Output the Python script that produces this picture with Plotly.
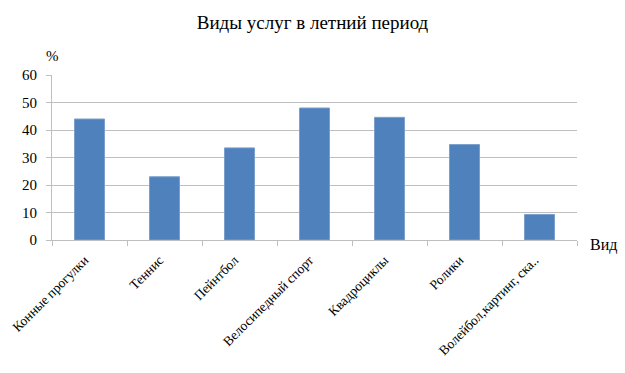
import plotly.graph_objects as go

categories = ["Конные прогулки", "Теннис", "Пейнтбол", "Велосипедный спорт",
              "Квадроциклы", "Ролики", "Волейбол,картинг, ска.."]
values = [44, 23, 33.5, 48, 44.6, 34.7, 9.3]
y_ticks = [0, 10, 20, 30, 40, 50, 60]

FONT = "Liberation Serif, Times New Roman, serif"

fig = go.Figure(go.Bar(
    x=categories, y=values,
    marker=dict(color="#4F81BD", line=dict(color="#7BA0CD", width=1)),
    hoverinfo="skip",
))

fig.update_layout(
    width=625, height=373,
    margin=dict(l=52, r=48, t=75, b=133, autoexpand=False),
    paper_bgcolor="white", plot_bgcolor="white",
    bargap=0.6,
    showlegend=False,
    font=dict(family=FONT, color="#000000"),
    title=dict(text="Виды услуг в летний период", x=0.5, xanchor="center",
               y=1 - 22 / 373, yanchor="middle",
               font=dict(family=FONT, size=19, color="#000000")),
    xaxis=dict(
        type="category", tickangle=-45, tickson="boundaries",
        ticks="outside", ticklen=5, tickcolor="#BFBFBF",
        showline=True, linecolor="#BFBFBF", linewidth=1,
        showgrid=False, automargin=False,
        ticklabelstandoff=6, ticklabelshift=-5,
        tickfont=dict(family=FONT, size=13.5, color="#000000"),
    ),
    yaxis=dict(
        range=[0, 60], tickvals=y_ticks, ticktext=[str(v) for v in y_ticks],
        ticks="outside", ticklen=5, tickcolor="#BFBFBF",
        showline=True, linecolor="#BFBFBF", linewidth=1,
        showgrid=True, gridcolor="#BFBFBF", gridwidth=1,
        zeroline=False, automargin=False,
        ticklabelstandoff=6,
        tickfont=dict(family=FONT, size=15, color="#000000"),
    ),
    annotations=[
        dict(text="%", xref="paper", yref="paper", x=0.0, y=1 + 19 / 165,
             xanchor="center", yanchor="middle", showarrow=False,
             font=dict(family=FONT, size=15, color="#000000")),
        dict(text="Вид", xref="paper", yref="paper", x=1 + 11 / 525, y=-5 / 165,
             xanchor="left", yanchor="middle", showarrow=False,
             font=dict(family=FONT, size=16, color="#000000")),
    ],
)

fig.write_html("out.html", config={"displayModeBar": False, "staticPlot": True},
               post_script="document.body.style.margin='0';document.body.style.overflow='hidden';")
